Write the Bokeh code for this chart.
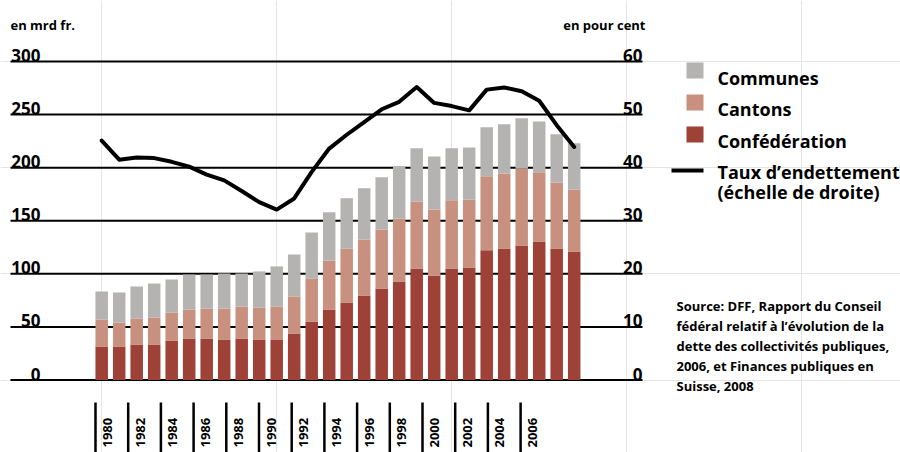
import math
from bokeh.plotting import figure
from bokeh.models import Range1d, ColumnDataSource
from bokeh.core.properties import value
from bokeh.embed import file_html
from bokeh.resources import INLINE

# ---------------- data ----------------
years = list(range(1980, 2008))
confederation = [31.6, 31.6, 33.5, 33.5, 37.2, 39.1, 39.1, 38.2, 39.1, 38.2,
                 38.2, 43.8, 55.1, 66.4, 73.0, 79.6, 86.2, 92.8, 105.1, 98.5,
                 105.1, 106.0, 122.1, 123.9, 126.8, 130.5, 123.9, 121.1]
cantons = [25.4, 22.6, 24.5, 25.4, 26.4, 27.3, 28.3, 29.2, 30.2, 30.1,
           31.1, 34.9, 40.6, 46.2, 50.9, 52.8, 55.6, 59.4, 63.1, 62.2,
           64.1, 64.1, 69.8, 70.7, 72.5, 65.1, 62.2, 58.4]
communes = [26.4, 28.3, 30.1, 32.1, 31.1, 33.0, 32.0, 33.0, 31.1, 34.0,
            37.7, 39.6, 43.3, 45.3, 47.2, 48.1, 49.1, 49.0, 50.0, 49.9,
            49.0, 49.0, 46.1, 46.2, 47.2, 48.0, 45.3, 43.4]
taux = [45.1, 41.5, 41.9, 41.8, 41.1, 40.2, 38.7, 37.6, 35.6, 33.5,
        32.1, 34.2, 39.2, 43.6, 46.2, 48.6, 51.0, 52.4, 55.2, 52.2,
        51.6, 50.8, 54.7, 55.1, 54.4, 52.6, 48.0, 43.9]

left_ticks = [0, 50, 100, 150, 200, 250, 300]
left_labels = ["0", "50", "100", "150", "200", "250", "300"]
right_ticks = [0, 10, 20, 30, 40, 50, 60]
right_labels = ["0", "10", "20", "30", "40", "50", "60"]
label_years = list(range(1980, 2007, 2))
label_texts = [str(y) for y in label_years]

series_names = ["Communes", "Cantons", "Confédération"]
line_name = ["Taux d’endettement", "(échelle de droite)"]
left_title = "en mrd fr."
right_title = "en pour cent"
source_lines = ["Source: DFF, Rapport du Conseil",
                "fédéral relatif à l’évolution de la",
                "dette des collectivités publiques,",
                "2006, et Finances publiques en",
                "Suisse, 2008"]

GRAY = "#b4b3b1"
SALMON = "#c8917f"
RED = "#9e4137"
FONT = value("Open Sans")

# ---------------- layout ----------------
W, H = 900, 452
X_PX = 17.5                 # px per year (bars)
X0 = 1980 - 101.2 / X_PX
Y_PX = 318.5 / 300          # px per mrd fr.
Y_ZERO = 379.5              # pixel y of value 0
y_start = -(H - Y_ZERO) / Y_PX
y_end = Y_ZERO / Y_PX
LX_PX = 16.35               # px per year (tick labels)
LX0 = 1980 - 95.0 / LX_PX


def dx(px):
    return X0 + px / X_PX


def dy(py):
    return (Y_ZERO - py) / Y_PX


p = figure(width=W, height=H,
           x_range=Range1d(X0, X0 + W / X_PX),
           y_range=Range1d(y_start, y_end),
           output_backend="svg", toolbar_location=None,
           x_axis_location=None, y_axis_location=None,
           min_border=0, outline_line_color=None)
p.extra_y_ranges = {"pct": Range1d(y_start / 5, y_end / 5)}
p.extra_x_ranges = {"lab": Range1d(LX0, LX0 + W / LX_PX)}
p.background_fill_color = "white"
p.border_fill_color = "white"

# grid lines
p.segment(x0=dx(10), y0=left_ticks, x1=dx(642), y1=left_ticks,
          line_color="black", line_width=2)

# stacked bars
src = ColumnDataSource(dict(year=years, confederation=confederation,
                            cantons=cantons, communes=communes))
p.vbar_stack(["confederation", "cantons", "communes"], x="year", width=0.714,
             fill_color=[RED, SALMON, GRAY], line_color=None, source=src)

# debt ratio line
p.line(years, taux, y_range_name="pct", line_color="black", line_width=4,
       line_join="round", line_cap="round")

# left / right tick labels
txt = dict(text_font=FONT, text_font_style="bold", text_color="black")
p.text(x=dx(40), y=left_ticks, text=left_labels, text_align="right",
       text_baseline="alphabetic", y_offset=-6, text_font_size="17px", **txt)
p.text(x=dx(642), y=right_ticks, text=right_labels, y_range_name="pct",
       text_align="right", text_baseline="alphabetic", y_offset=-6,
       text_font_size="17px", **txt)
p.text(x=[dx(10)], y=[dy(24)], text=[left_title], text_align="left",
       text_baseline="alphabetic", text_font_size="13px", **txt)
p.text(x=[dx(645)], y=[dy(24)], text=[right_title], text_align="right",
       text_baseline="alphabetic", text_font_size="13px", **txt)

# year ticks and labels
p.segment(x0=label_years, x1=label_years, y0=dy(402), y1=y_start,
          x_range_name="lab", line_color="black", line_width=2.5)
p.text(x=[y + 12 / LX_PX for y in label_years], y=dy(447), text=label_texts,
       angle=math.pi / 2, x_range_name="lab", text_align="left",
       text_baseline="alphabetic", text_font_size="13px", **txt)

# legend (manual)
p.rect(x=dx(694.5), y=[dy(70), dy(102), dy(134)], width=17, height=16,
       width_units="screen", height_units="screen",
       fill_color=[GRAY, SALMON, RED], line_color=None)
p.segment(x0=dx(671), x1=dx(703), y0=dy(170), y1=dy(170),
          line_color="black", line_width=4)
p.text(x=dx(717), y=[dy(77), dy(108.5), dy(140), dy(171.5), dy(191)],
       text=series_names + line_name, text_align="left",
       text_baseline="alphabetic", text_font_size="18px", **txt)

# source
p.text(x=dx(676), y=[dy(305 + 20 * i) for i in range(len(source_lines))],
       text=source_lines, text_align="left", text_baseline="alphabetic",
       text_font_size="13px", **txt)

open("out.html", "w").write(file_html(p, INLINE))
